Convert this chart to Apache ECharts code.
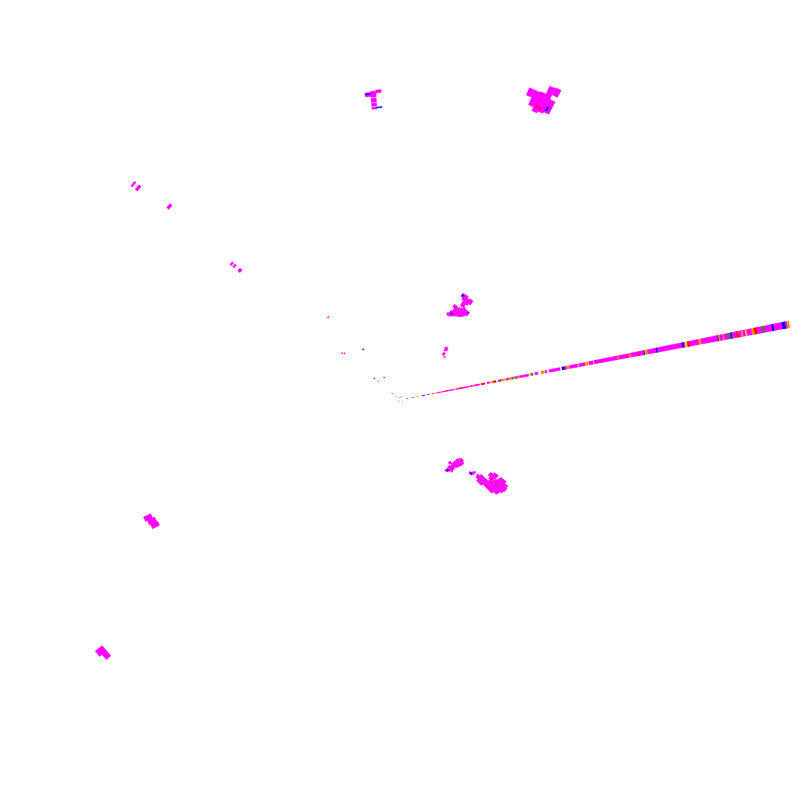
<!DOCTYPE html>
<html><head><meta charset="utf-8">
<style>html,body{margin:0;padding:0;background:#fff}#c{width:800px;height:800px}</style>
<script src="https://cdn.jsdelivr.net/npm/echarts@6/dist/echarts.min.js"></script>
</head><body><div id="c"></div>
<script>
// classes: index into classColors
var classColors = ['#ff00ff','#0000ff','#ff0000','#ff8c00','#109010','#ffc800'];
// [angle deg, range start, range end, class, optional angular width]
var beamAngle = 79;
var beamGates = [
[6.8,8.1,1],[11.9,14.3,0],[17,18.7,3],[22.4,25.5,1],[27.5,30.5,0],[32.6,34,0],[34,36.7,3],[37.7,41.8,0],[42.8,46.8,0],
[46.8,49,2],[49,52.6,0],[53,55,0],[55,57,3],[57,61,0],[61,64,2],[64,70,0],[71,74,0],[74,76,3],[76,81,0],[82.5,86.5,2],
[88.6,91.7,0],[92.7,95,3],[95,97.8,2],[100,102,0],[102,103,4],[103,107,3],[108,111,0],[111,114,3],[114,116,4],[116,117,5],
[117,120,0],[120,122,3],[122,126,0],[126,131,0],[132.4,134,3],[134,135.5,4],[137.5,140.5,0],[143.6,146.7,3],[147.7,149.7,0],
[151.8,156.8,0],[156.8,163,0],[165,168,1],[168,170,0],[170,173,3],[173,179,0],[179,181,0],[182,188.5,0],[188.5,191.5,3],
[192.5,196.6,0],[197.6,212,0],[212,217,0],[217,222,0],[222,223,3],[223,233.7,0],[233.7,235.3,3],[235.3,243.5,0],[243.5,244.5,2],
[244.5,248.5,0],[248.5,249.5,1],[249.5,252.6,3],[252.6,261,0],[261,262.5,1],[262.5,274,0],[274,287.5,0],[287.5,289.5,1],
[289.5,290.5,0],[290.5,292,5],[292.7,295,2],[295,304.5,0],[304.5,307,3],[307,323.6,0],[323.6,324.6,1],[324.6,326,3],[326,329.3,0],
[329.3,330.3,3],[330.3,335,0],[335,337,4],[337,338.5,1],[338.5,343,0],[343,345,2],[345,348,0],[348,349.5,3],
[349.5,352,0],[352,353.5,5],[353.5,358.5,0],[358.5,361,3],[361,364,2],[364,369.5,0],[369.5,371.5,4],[371.5,379,0],
[379,381,1],[381,389.5,0],[389.5,393,1],[393,394.5,0],[394.5,396.6,3]
];
var blobNorthEast = [
[23,330,338,0],[24,322,338,0],[25,318,339,0],[26,320,348,0],[27,322,336,0],[27,341,349,0],
[25,323,324.5,2,0.3],[25.6,322,323.5,2,0.3],[26.8,324,328,1,0.35]
];
var blobNorth = [
[354,305,309,0],[354,307,308,1],[355,304,310,0],[355,299,303,0],[355,295,298,0],[355,292,294,0],[356,308,311,0],[356,293,294,1]
];
var blobMiddle = [
[29,97,100,0],[30,97,103,0],[30,107,110,0],[31,98,110,0],[31,100,101.5,1],[31,120,124,0],[31,121,123,1],[32,99,109,0],[32,118,124,0],
[33,100,110,0],[33,112,124,0],[34,101,111,0],[34,112,122,0],[35,102,113,0],[35,116,123,0],[36,103,112,0],[36,118,123,0],
[37,105,112,0],[38,107,112,0],[38,110,111,1,0.6],
[41,68,70,0],[42,66,71,0],[43,67,70,0],[43,62,65,0],[44,62,65,0],[46,61,63,0]
];
var blobSouthEast = [
[134,84,88,0],[135,83,90,0],[136,82,90,0],[137,82,90,0],[138,82,89,0],[139,82,89,0],[140,82,88,0],[141,79,87,0],[142,79,81,0],
[142,83,88,0],[143,82,88,0],[144,82,89,0],[145,83,87,0],[146,83,86,0],[146,84,86,1],[147,83,85,0],
[128,119,124,0],[128,127,134,0],[129,116,124,0],[129,126,138,0],[130,116,123,0],[130,124,139,0],[131,118,122,0],[131,123,139,0],
[132,120,138,0],[133,110,136,0],[134,103,105,0],[134,107,135,0],[135,102,105,0],[135,108,131,0],
[136,100,104,0],[136,111,118,0],[131,121,122.5,2,0.6],[136,101,103,1]
];
var blobSouthWest = [
[243,271,279,0],[244,272,280,0],[245,274,282,0],
[229,386,392,0],[230,386,395,0]
];
var blobNorthWest = [
[309,342,344,0],[309,335.5,338.5,0],[310,299.5,302.5,0],[309,215.5,217.5,0],[309,212,214,0],[309,204.5,207.5,0],[319,109,110,0],
[309,74,75,0],[310,72,73,0],[324,62,63.2,1],[310,33,34.2,1],[325,27,28.2,1],[310,28,29,0],[311,9,11,0]
];
var centerGates = [
[0,2,3,0],[20,3,4,4],[130,2.5,3.5,0],[200,1,2,3],[260,1.5,2.5,3],[315,4,5,0]
];

var cells = [];
beamGates.forEach(function(g){cells.push([beamAngle,g[0],g[1],g[2],1]);});
[blobNorthEast,blobNorth,blobMiddle,blobSouthEast,blobSouthWest,blobNorthWest,centerGates].forEach(function(b){
  b.forEach(function(c){cells.push([c[0],c[1],c[2],c[3],c[4]||1]);});
});

function renderCell(params, api){
  var a = api.value(0), r0 = api.value(1), r1 = api.value(2), k = api.value(3), w = api.value(4)/2;
  var p1 = api.coord([r0,a-w]), p2 = api.coord([r1,a-w]), p3 = api.coord([r1,a+w]), p4 = api.coord([r0,a+w]);
  return {type:'polygon',shape:{points:[p1,p2,p3,p4]},style:{fill:classColors[k],stroke:classColors[k],lineWidth:0.4}};
}
var chart = echarts.init(document.getElementById('c'));
chart.setOption({
  animation:false,
  backgroundColor:'#fff',
  polar:{center:[400,400],radius:400},
  angleAxis:{type:'value',min:0,max:360,startAngle:90,clockwise:true,show:false},
  radiusAxis:{type:'value',min:0,max:400,show:false},
  series:[{type:'custom',coordinateSystem:'polar',data:cells,renderItem:renderCell,silent:true,clip:false,encode:{radius:1,angle:0}}]
});
</script></body></html>
